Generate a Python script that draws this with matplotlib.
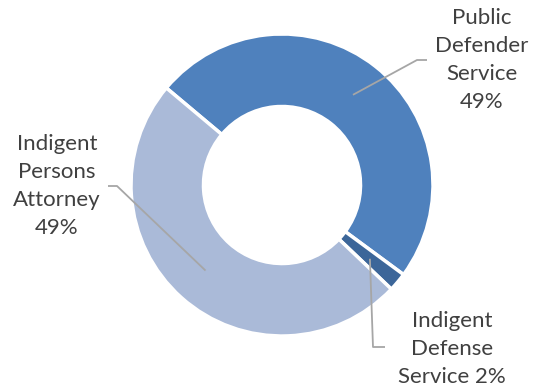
import numpy as np
import matplotlib.pyplot as plt

labels = ["Public\nDefender\nService\n49%", "Indigent\nDefense\nService 2%", "Indigent\nPersons\nAttorney\n49%"]
shares = [49, 2, 49]
colors = ["#4F81BD", "#3C6699", "#AABAD8"]

# figure laid out in pixel units, pie centre and radius in px
W, H = 534, 390
CX, CY, R = 282, 185, 151
HOLE = 0.52


def px(x, y):
    """pixel position -> data coords (pie radius = 1)"""
    return (x - CX) / R, (CY - y) / R


plt.rcParams["font.family"] = ["Lato", "DejaVu Sans"]
fig = plt.figure(figsize=(W / 100, H / 100), dpi=100)
ax = fig.add_axes([0, 0, 1, 1])

start = 140
wedges, _ = ax.pie(shares, colors=colors, startangle=start, counterclock=False,
                   radius=1, wedgeprops=dict(width=1 - HOLE, edgecolor="white", linewidth=2.5))
# pie() resets the limits, so set them afterwards
ax.set_aspect("auto")
ax.set_xlim(-CX / R, (W - CX) / R)
ax.set_ylim(-(H - CY) / R, CY / R)
ax.axis("off")

# leader lines start at the middle of each ring segment
ring_mid = (1 + HOLE) / 2
mids = []
for w in wedges:
    a = np.deg2rad((w.theta1 + w.theta2) / 2)
    mids.append((ring_mid * np.cos(a), ring_mid * np.sin(a)))

# elbows / ends of the leaders and the label anchors (px)
legs = [[px(417, 60), px(427, 60)],
        [px(373, 347), px(385, 347)],
        [px(117, 186), px(108, 186)]]
text_pos = [px(482, 60), px(452, 349), px(57, 186)]

for m, leg, tp, lab in zip(mids, legs, text_pos, labels):
    xs = [m[0]] + [p[0] for p in leg]
    ys = [m[1]] + [p[1] for p in leg]
    ax.plot(xs, ys, color="#A6A6A6", lw=1.3, solid_capstyle="butt")
    ax.text(tp[0], tp[1], lab, ha="center", va="center", fontsize=16,
            color="#404040", linespacing=1.48)

fig.savefig("out.png", dpi=100)
